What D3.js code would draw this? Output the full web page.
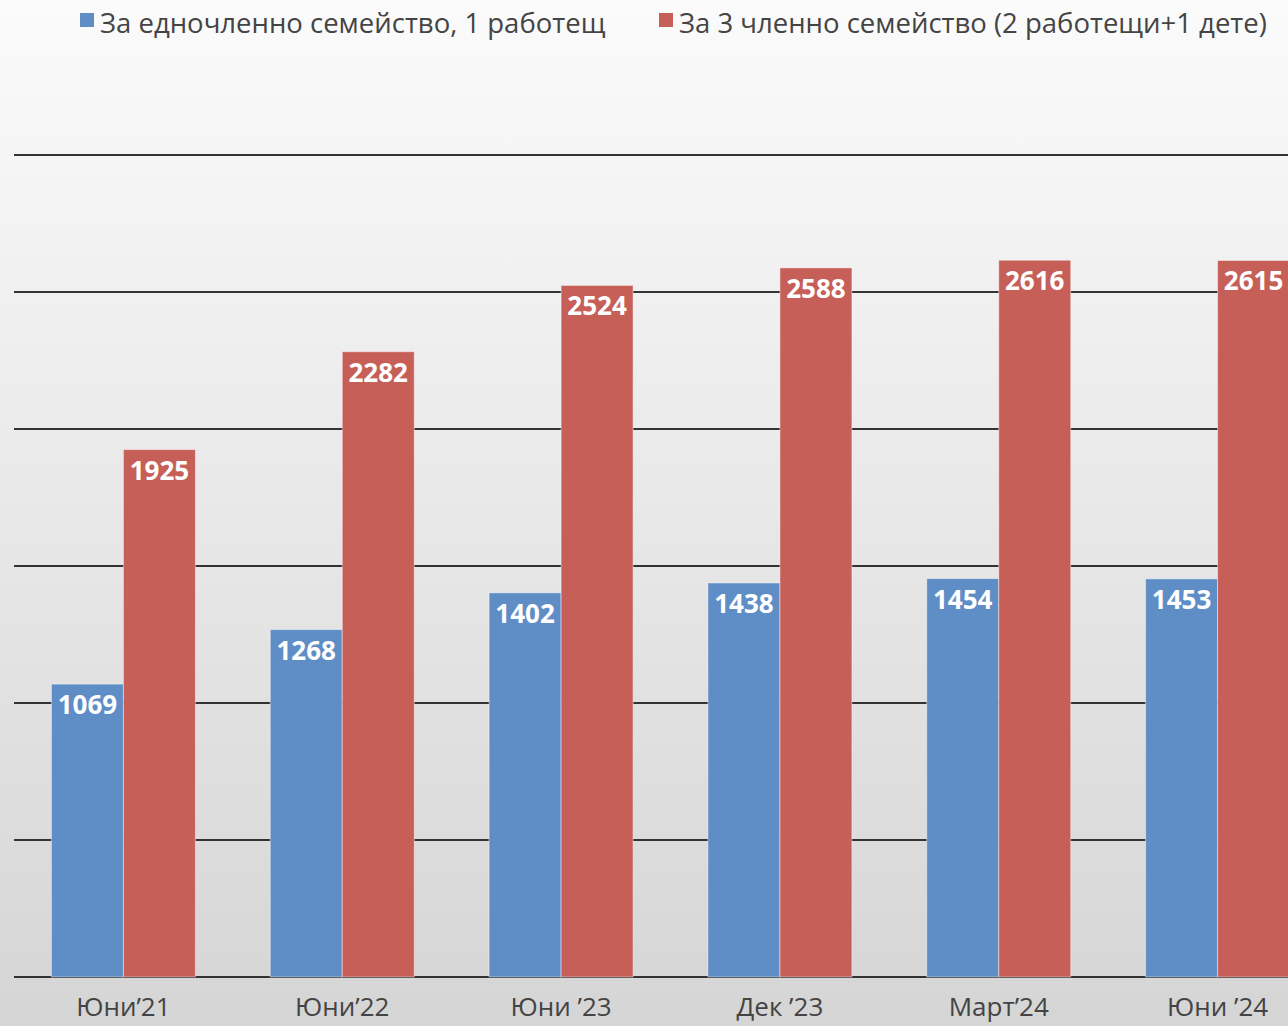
<!DOCTYPE html>
<html>
<head>
<meta charset="utf-8">
<script src="https://cdn.jsdelivr.net/npm/d3@7"></script>
<style>
  body { margin: 0; overflow: hidden; }
  .grid line { stroke: #333; stroke-width: 2px; }
  .lbl { font-family: "Open Sans", sans-serif; font-weight: bold; fill: white; }
  .cat { font-family: "Open Sans", sans-serif; fill: #444; }
  .leg { font-family: "Open Sans", sans-serif; fill: #444; }
</style>
</head>
<body>
<svg id="chart" width="1288" height="1026"></svg>
<script>
var categories = ["Юни’21", "Юни’22", "Юни ’23", "Дек ’23", "Март’24", "Юни ’24"];
var seriesNames = ["За едночленно семейство, 1 работещ", "За 3 членно семейство (2 работещи+1 дете)"];
var single = [1069, 1268, 1402, 1438, 1454, 1453];
var family = [1925, 2282, 2524, 2588, 2616, 2615];
var yTicks = [0, 500, 1000, 1500, 2000, 2500, 3000];
var colors = ["#5f8dc6", "#c75f59"];

var svg = d3.select("#chart");

// background gradient
var grad = svg.append("defs").append("linearGradient")
    .attr("id", "bg").attr("x1", 0).attr("y1", 0).attr("x2", 0).attr("y2", 1);
grad.append("stop").attr("offset", "0%").attr("stop-color", "#fbfbfb");
grad.append("stop").attr("offset", "100%").attr("stop-color", "#d5d5d5");
svg.append("rect").attr("width", 1288).attr("height", 1026).attr("fill", "url(#bg)");

var y = d3.scaleLinear().domain([0, 3000]).range([977, 155]);

var x0 = d3.scaleBand().domain(categories)
    .range([14, 1327]).paddingInner(0.342).paddingOuter(0.171);
var x1 = d3.scaleBand().domain([0, 1]).range([0, x0.bandwidth()]);

// gridlines
svg.append("g").attr("class", "grid")
  .selectAll("line").data(yTicks).enter().append("line")
    .attr("x1", 14).attr("x2", 1288)
    .attr("y1", d => y(d)).attr("y2", d => y(d));

var rows = categories.map((c, i) => ({cat: c, vals: [single[i], family[i]]}));

var groups = svg.append("g").selectAll("g").data(rows).enter().append("g")
    .attr("transform", d => "translate(" + x0(d.cat) + ",0)");

groups.selectAll("rect").data(d => d.vals).enter().append("rect")
    .attr("x", (d, j) => x1(j))
    .attr("width", x1.bandwidth())
    .attr("y", d => y(d))
    .attr("height", d => y(0) - y(d))
    .attr("fill", (d, j) => colors[j])
    .attr("stroke", "rgba(255,255,255,0.45)")
    .attr("stroke-width", 1);

groups.selectAll("text").data(d => d.vals).enter().append("text")
    .attr("class", "lbl")
    .attr("x", (d, j) => x1(j) + x1.bandwidth() / 2)
    .attr("y", d => y(d) + 30)
    .attr("text-anchor", "middle")
    .attr("font-size", 26)
    .text(d => d);

// category labels
svg.append("g").selectAll("text").data(categories).enter().append("text")
    .attr("class", "cat")
    .attr("x", d => x0(d) + x0.bandwidth() / 2)
    .attr("y", 1016)
    .attr("text-anchor", "middle")
    .attr("font-size", 26)
    .text(d => d);

// legend
var legX = [80, 659];
var leg = svg.append("g").selectAll("g").data(seriesNames).enter().append("g")
    .attr("transform", (d, i) => "translate(" + legX[i] + ",0)");
leg.append("rect").attr("x", 0).attr("y", 13).attr("width", 14).attr("height", 14)
    .attr("fill", (d, i) => colors[i]);
leg.append("text").attr("class", "leg")
    .attr("x", 20).attr("y", 33)
    .attr("font-size", 27.5)
    .text(d => d);
</script>
</body>
</html>
